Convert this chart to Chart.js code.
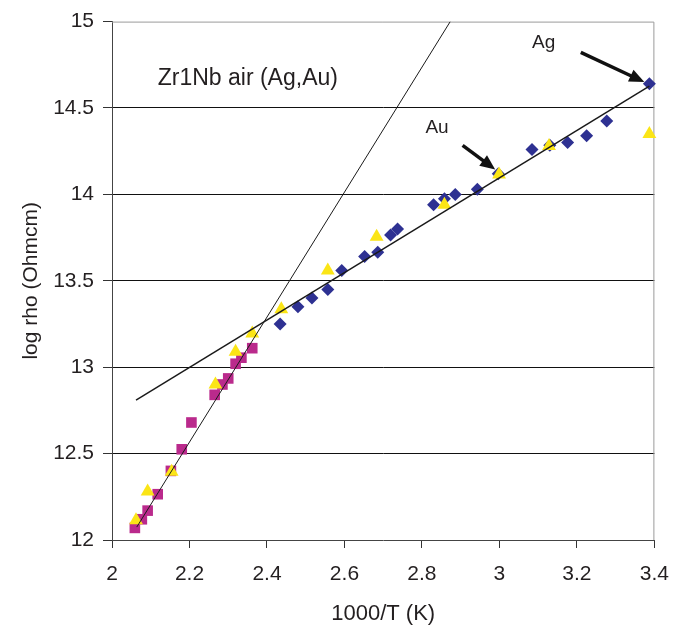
<!DOCTYPE html>
<html>
<head>
<meta charset="utf-8">
<script src="https://cdn.jsdelivr.net/npm/chart.js@4.4.1/dist/chart.umd.min.js"></script>
<style>
  html, body { margin: 0; padding: 0; background: #fff; }
  #wrap { width: 683px; height: 628px; position: relative; }
</style>
</head>
<body>
<div id="wrap"><canvas id="grafico"></canvas></div>
<script>
// Ag contacts (blue diamonds)
var agX = [2.434, 2.480, 2.516, 2.557, 2.593, 2.652, 2.686, 2.719, 2.737, 2.830,
           2.858, 2.886, 2.943, 2.997, 3.084, 3.130, 3.176, 3.225, 3.277, 3.387];
var agY = [13.25, 13.35, 13.40, 13.45, 13.56, 13.64, 13.665, 13.765, 13.80, 13.94,
           13.975, 14.00, 14.03, 14.12, 14.26, 14.285, 14.30, 14.34, 14.425, 14.64];

// Au contacts (yellow triangles)
var auX = [2.062, 2.092, 2.154, 2.267, 2.319, 2.362, 2.437, 2.557, 2.683, 2.858, 2.999, 3.128, 3.387];
var auY = [12.115, 12.28, 12.395, 12.90, 13.09, 13.195, 13.335, 13.56, 13.755, 13.94, 14.115, 14.28, 14.35];

// high temperature run (magenta squares)
var htX = [2.059, 2.077, 2.092, 2.118, 2.152, 2.180, 2.205, 2.265, 2.285, 2.300, 2.319, 2.334, 2.362];
var htY = [12.07, 12.12, 12.17, 12.265, 12.40, 12.525, 12.68, 12.84, 12.90, 12.935, 13.02, 13.055, 13.11];

// trend lines
var fitSteepX = [2.064, 2.873];
var fitSteepY = [12.075, 15.0];
var fitFlatX = [2.062, 3.387];
var fitFlatY = [12.81, 14.626];

// ticks
var xTicks = [2, 2.2, 2.4, 2.6, 2.8, 3, 3.2, 3.4];
var yTicks = [12, 12.5, 13, 13.5, 14, 14.5, 15];

// annotations (data units)
var notas = [
    { texto: "Zr1Nb air (Ag,Au)", x: 2.118, y: 14.672, size: 23 },
    { texto: "Ag", x: 3.084, y: 14.875, size: 19 },
    { texto: "Au", x: 2.809, y: 14.385, size: 19 }
];
var setas = [
    { x1: 3.210, y1: 14.822, x2: 3.374, y2: 14.650 },
    { x1: 2.905, y1: 14.284, x2: 2.989, y2: 14.144 }
];

function pares(xs, ys) {
    return xs.map(function (x, i) { return { x: x, y: ys[i] }; });
}

var fonte = "'Liberation Sans', Arial, sans-serif";
Chart.defaults.font.family = fonte;
Chart.defaults.color = "#231F20";

var extras = {
    id: "extras",
    beforeDatasetsDraw: function (chart) {
        var ctx = chart.ctx, a = chart.chartArea;
        ctx.save();
        ctx.strokeStyle = "#9a9a9a";
        ctx.lineWidth = 1;
        ctx.beginPath();
        ctx.moveTo(a.left, a.top + 0.5);
        ctx.lineTo(a.right - 0.5, a.top + 0.5);
        ctx.lineTo(a.right - 0.5, a.bottom);
        ctx.stroke();
        ctx.restore();
    },
    afterDatasetsDraw: function (chart) {
        var ctx = chart.ctx, sx = chart.scales.x, sy = chart.scales.y;
        ctx.save();
        ctx.fillStyle = "#231F20";
        ctx.textBaseline = "middle";
        ctx.textAlign = "left";
        notas.forEach(function (n) {
            ctx.font = n.size + "px " + fonte;
            ctx.fillText(n.texto, sx.getPixelForValue(n.x), sy.getPixelForValue(n.y));
        });
        ctx.strokeStyle = "#111";
        ctx.fillStyle = "#111";
        setas.forEach(function (s) {
            var x1 = sx.getPixelForValue(s.x1), y1 = sy.getPixelForValue(s.y1);
            var x2 = sx.getPixelForValue(s.x2), y2 = sy.getPixelForValue(s.y2);
            var ang = Math.atan2(y2 - y1, x2 - x1);
            var cab = 15, meia = 6.5;
            ctx.lineWidth = 3.5;
            ctx.beginPath();
            ctx.moveTo(x1, y1);
            ctx.lineTo(x2 - cab * 0.8 * Math.cos(ang), y2 - cab * 0.8 * Math.sin(ang));
            ctx.stroke();
            ctx.beginPath();
            ctx.moveTo(x2, y2);
            ctx.lineTo(x2 - cab * Math.cos(ang) + meia * Math.sin(ang), y2 - cab * Math.sin(ang) - meia * Math.cos(ang));
            ctx.lineTo(x2 - cab * Math.cos(ang) - meia * Math.sin(ang), y2 - cab * Math.sin(ang) + meia * Math.cos(ang));
            ctx.closePath();
            ctx.fill();
        });
        ctx.restore();
    }
};

function rotulo(v) { return String(v); }

var grafico = new Chart(document.getElementById("grafico").getContext("2d"), {
    type: "scatter",
    data: {
        datasets: [
            {
                label: "fit steep",
                type: "line",
                data: pares(fitSteepX, fitSteepY),
                borderColor: "#1a1a1a",
                borderWidth: 1,
                pointRadius: 0,
                fill: false,
                order: 0
            },
            {
                label: "fit flat",
                type: "line",
                data: pares(fitFlatX, fitFlatY),
                borderColor: "#1a1a1a",
                borderWidth: 1.5,
                pointRadius: 0,
                fill: false,
                order: 0
            },
            {
                label: "Au",
                data: pares(auX, auY),
                pointStyle: "triangle",
                pointRadius: 8,
                backgroundColor: "#FBE516",
                borderColor: "#FBE516",
                borderWidth: 0,
                clip: false,
                order: 1
            },
            {
                label: "HT",
                data: pares(htX, htY),
                pointStyle: "rect",
                pointRadius: 7.5,
                backgroundColor: "#BA2A8C",
                borderColor: "#BA2A8C",
                borderWidth: 0,
                clip: false,
                order: 2
            },
            {
                label: "Ag",
                data: pares(agX, agY),
                pointStyle: "rectRot",
                pointRadius: 6.5,
                backgroundColor: "#2E3192",
                borderColor: "#2E3192",
                borderWidth: 0,
                clip: false,
                order: 3
            }
        ]
    },
    options: {
        responsive: true,
        maintainAspectRatio: false,
        animation: false,
        layout: { padding: { top: 18, right: 26, left: 0, bottom: 0 } },
        plugins: {
            legend: { display: false },
            tooltip: { enabled: false }
        },
        scales: {
            x: {
                type: "linear",
                min: 2,
                max: 3.4,
                afterBuildTicks: function (s) { s.ticks = xTicks.map(function (v) { return { value: v }; }); },
                afterFit: function (s) { s.height = 88; },
                grid: { drawOnChartArea: false, drawTicks: true, tickLength: 8, tickColor: "#333" },
                border: { color: "#444", width: 1 },
                ticks: { font: { size: 21 }, padding: 14, maxRotation: 0, autoSkip: false, callback: rotulo },
                title: { display: true, text: "1000/T (K)", font: { size: 22 }, padding: { top: 4, bottom: 1 } }
            },
            y: {
                type: "linear",
                min: 12,
                max: 15,
                afterBuildTicks: function (s) { s.ticks = yTicks.map(function (v) { return { value: v }; }); },
                afterFit: function (s) { s.width = 112; },
                grid: {
                    color: function (c) { return (c.tick && (c.tick.value === 15 || c.tick.value === 12)) ? "rgba(0,0,0,0)" : "#111"; },
                    tickColor: "#333",
                    tickLength: 9
                },
                border: { color: "#444", width: 1 },
                ticks: { font: { size: 21 }, padding: 9, autoSkip: false, callback: rotulo },
                title: { display: true, text: "log rho (Ohmcm)", font: { size: 21 }, padding: { top: 19, bottom: 4 } }
            }
        }
    },
    plugins: [extras]
});
</script>
</body>
</html>
